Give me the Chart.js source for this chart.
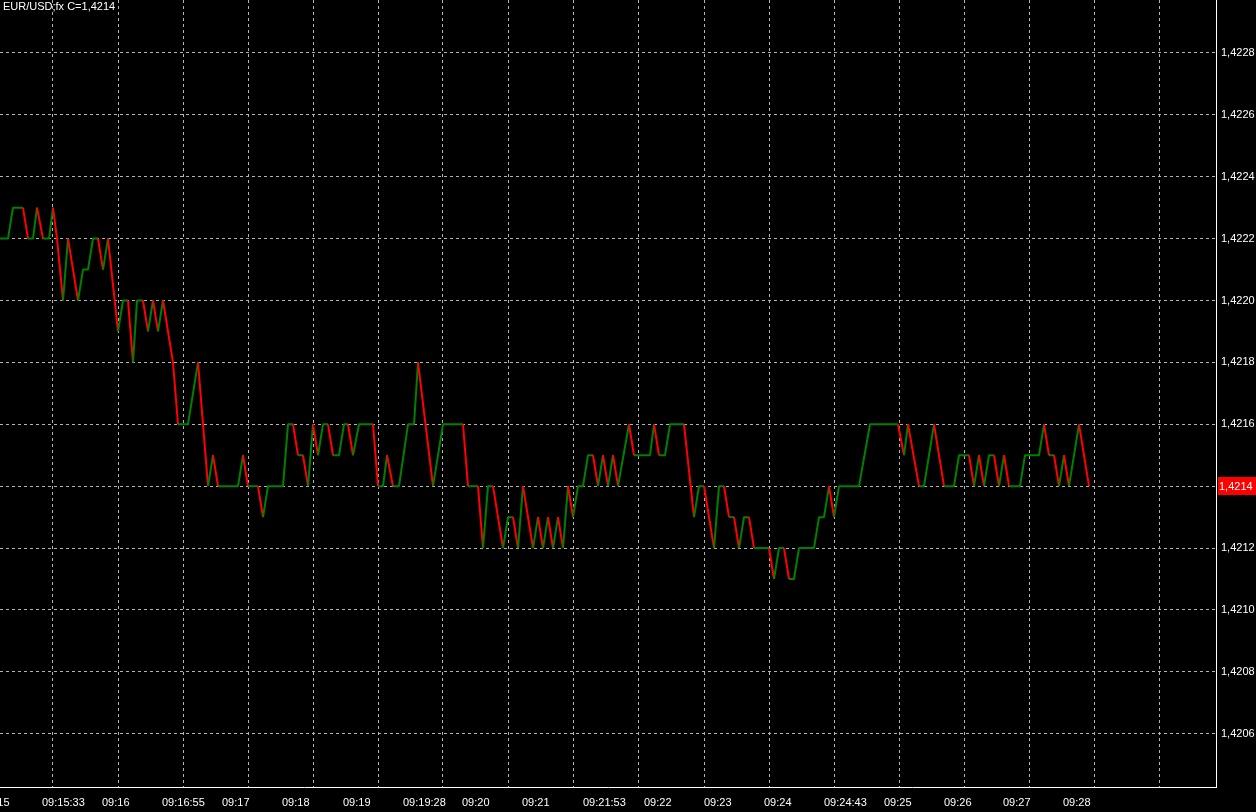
<!DOCTYPE html>
<html>
<head>
<meta charset="utf-8">
<title>EUR/USD tick chart</title>
<script src="https://cdn.jsdelivr.net/npm/chart.js@4"></script>
<style>
  html, body { margin: 0; padding: 0; background: #000; }
  canvas { display: block; }
</style>
</head>
<body>
<canvas id="mycanvas" width="1256" height="812"></canvas>
<script>
var symbol = 'EUR/USD;fx';

// tick number of every turning point of the price line
var tickNo = [
  0, 8, 13, 23, 28, 33, 37, 43, 49, 53,
  57, 63, 68, 78, 83, 88, 93, 98, 103, 108,
  118, 123, 128, 133, 137, 143, 148, 153, 158, 163,
  173, 178, 188, 198, 208, 213, 218, 238, 243, 248,
  258, 263, 268, 283, 288, 293, 298, 303, 308, 313,
  318, 323, 328, 333, 339, 344, 348, 353, 359, 373,
  378, 383, 387, 393, 399, 408, 414, 418, 433, 443,
  463, 468, 478, 483, 488, 493, 503, 508, 513, 518,
  523, 533, 538, 543, 548, 553, 558, 563, 568, 573,
  578, 583, 588, 593, 598, 603, 608, 613, 618, 629,
  634, 650, 654, 659, 665, 670, 684, 694, 699, 704,
  714, 719, 724, 729, 734, 739, 744, 749, 754, 769,
  774, 779, 784, 789, 794, 799, 814, 819, 824, 829,
  834, 839, 859, 870, 898, 904, 908, 919, 924, 934,
  944, 954, 959, 969, 974, 979, 984, 989, 994, 999,
  1004, 1009, 1020, 1025, 1039, 1044, 1049, 1054, 1059, 1064,
  1069, 1079, 1089
];

var price = [
  1.4222, 1.4222, 1.4223, 1.4223, 1.4222, 1.4222, 1.4223, 1.4222, 1.4222, 1.4223,
  1.4222, 1.4220, 1.4222, 1.4220, 1.4221, 1.4221, 1.4222, 1.4222, 1.4221, 1.4222,
  1.4219, 1.4220, 1.4220, 1.4218, 1.4220, 1.4220, 1.4219, 1.4220, 1.4219, 1.4220,
  1.4218, 1.4216, 1.4216, 1.4218, 1.4214, 1.4215, 1.4214, 1.4214, 1.4215, 1.4214,
  1.4214, 1.4213, 1.4214, 1.4214, 1.4216, 1.4216, 1.4215, 1.4215, 1.4214, 1.4216,
  1.4215, 1.4216, 1.4216, 1.4215, 1.4215, 1.4216, 1.4216, 1.4215, 1.4216, 1.4216,
  1.4214, 1.4214, 1.4215, 1.4214, 1.4214, 1.4216, 1.4216, 1.4218, 1.4214, 1.4216,
  1.4216, 1.4214, 1.4214, 1.4212, 1.4214, 1.4214, 1.4212, 1.4213, 1.4213, 1.4212,
  1.4214, 1.4212, 1.4213, 1.4212, 1.4213, 1.4212, 1.4213, 1.4212, 1.4214, 1.4213,
  1.4214, 1.4214, 1.4215, 1.4215, 1.4214, 1.4215, 1.4214, 1.4215, 1.4214, 1.4216,
  1.4215, 1.4215, 1.4216, 1.4215, 1.4215, 1.4216, 1.4216, 1.4213, 1.4214, 1.4214,
  1.4212, 1.4214, 1.4214, 1.4213, 1.4213, 1.4212, 1.4213, 1.4213, 1.4212, 1.4212,
  1.4211, 1.4212, 1.4212, 1.4211, 1.4211, 1.4212, 1.4212, 1.4213, 1.4213, 1.4214,
  1.4213, 1.4214, 1.4214, 1.4216, 1.4216, 1.4215, 1.4216, 1.4214, 1.4214, 1.4216,
  1.4214, 1.4214, 1.4215, 1.4215, 1.4214, 1.4215, 1.4214, 1.4215, 1.4215, 1.4214,
  1.4215, 1.4214, 1.4214, 1.4215, 1.4215, 1.4216, 1.4215, 1.4215, 1.4214, 1.4215,
  1.4214, 1.4216, 1.4214
];

// time labels along the bottom and the tick they start at
var timeLabels = ['09:15', '09:15:33', '09:16', '09:16:55', '09:17', '09:18', '09:19',
  '09:19:28', '09:20', '09:21', '09:21:53', '09:22', '09:23', '09:24', '09:24:43',
  '09:25', '09:26', '09:27', '09:28'];
var labelAt = [-18, 42, 102, 162, 222, 282, 343, 403, 462, 522, 583, 644, 704, 764, 824, 884, 944, 1003, 1063];

// vertical grid lines
var gridAt = [53, 118, 183, 248, 313, 378, 443, 508, 573, 639, 704, 769, 834, 899, 964, 1029, 1094, 1159];

// price axis
var priceTicks = [1.4206, 1.4208, 1.4210, 1.4212, 1.4214, 1.4216, 1.4218, 1.4220, 1.4222, 1.4224, 1.4226, 1.4228];
var priceMin = 1.420428, priceMax = 1.422971;
var tickMax = 1216;

var UP = '#008000', DOWN = '#ff0000', GRID = '#b4b4b4';
var FONT = {family: 'Liberation Sans', size: 11};

function fmt(v) {
  return Number(v).toFixed(4).replace('.', ',');
}

var points = [];
for (var i in tickNo) {
  points.push({x: tickNo[i], y: price[i]});
}

var overlay = {
  id: 'overlay',
  afterDraw: function(chart) {
    var ctx = chart.ctx;
    var area = chart.chartArea;
    var last = price[price.length - 1];
    var py = Math.round(chart.scales.y.getPixelForValue(last));
    ctx.save();
    ctx.font = '11px "Liberation Sans"';
    // last price box on the axis
    ctx.fillStyle = DOWN;
    ctx.fillRect(area.right + 2, py - 9, chart.width - area.right - 2, 18);
    ctx.fillStyle = '#ffffff';
    ctx.textBaseline = 'middle';
    ctx.fillText(fmt(last), area.right + 3, py + 1);
    // symbol caption
    ctx.textBaseline = 'alphabetic';
    ctx.fillText(symbol + ' C=' + fmt(last), 3, 10);
    ctx.restore();
  }
};

var ctx = document.getElementById('mycanvas').getContext('2d');

var tickChart = new Chart(ctx, {
  type: 'line',
  data: {
    datasets: [{
      label: symbol,
      data: points,
      xAxisID: 'x',
      yAxisID: 'y',
      borderWidth: 2,
      borderJoinStyle: 'bevel',
      pointRadius: 0,
      tension: 0,
      fill: false,
      borderColor: UP,
      segment: {
        borderColor: function(c) { return c.p1.parsed.y < c.p0.parsed.y ? DOWN : UP; }
      }
    }]
  },
  options: {
    responsive: false,
    animation: false,
    devicePixelRatio: 1,
    layout: {padding: 0},
    plugins: {
      legend: {display: false},
      tooltip: {enabled: false}
    },
    scales: {
      x: {
        type: 'linear',
        position: 'bottom',
        min: 0,
        max: tickMax,
        afterBuildTicks: function(s) { s.ticks = gridAt.map(function(v) { return {value: v}; }); },
        afterFit: function(s) { s.height = 0; s.paddingLeft = 0; s.paddingRight = 0; },
        grid: {color: GRID, lineWidth: 1, drawTicks: false},
        border: {display: false, dash: [3, 3]},
        ticks: {display: false}
      },
      xl: {
        type: 'linear',
        position: 'bottom',
        min: 0,
        max: tickMax,
        afterBuildTicks: function(s) { s.ticks = labelAt.map(function(v) { return {value: v}; }); },
        afterFit: function(s) { s.height = 25; s.paddingLeft = 0; s.paddingRight = 0; },
        grid: {display: false, drawTicks: false},
        border: {display: true, color: '#ffffff', width: 1},
        ticks: {
          color: '#ffffff',
          font: FONT,
          padding: 9,
          align: 'start',
          autoSkip: false,
          maxRotation: 0,
          minRotation: 0,
          callback: function(v, i) { return timeLabels[i]; }
        }
      },
      y: {
        type: 'linear',
        position: 'right',
        min: priceMin,
        max: priceMax,
        afterBuildTicks: function(s) { s.ticks = priceTicks.map(function(v) { return {value: v}; }); },
        afterFit: function(s) { s.width = 40; s.paddingTop = 0; s.paddingBottom = 0; },
        grid: {color: GRID, lineWidth: 1, drawTicks: false},
        border: {display: true, color: '#ffffff', width: 1, dash: [3, 3]},
        ticks: {
          color: '#ffffff',
          font: FONT,
          padding: 5,
          autoSkip: false,
          callback: function(v) { return fmt(v); }
        }
      }
    }
  },
  plugins: [overlay]
});
</script>
</body>
</html>
